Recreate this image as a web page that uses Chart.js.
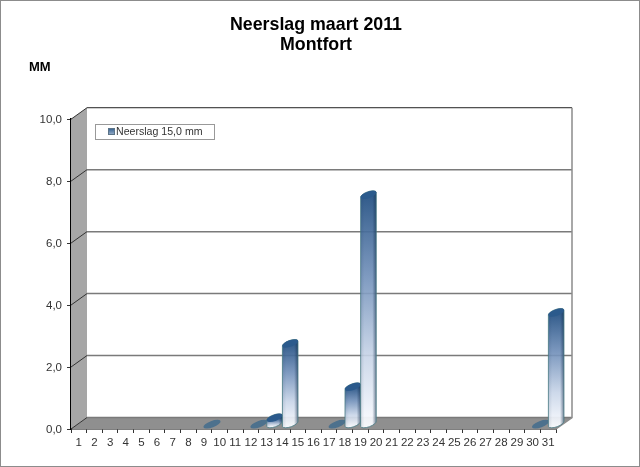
<!DOCTYPE html>
<html>
<head>
<meta charset="utf-8">
<style>
  body { margin: 0; background: #fff; }
  canvas { display: block; }
</style>
<script src="https://cdn.jsdelivr.net/npm/chart.js@4"></script>
</head>
<body>
<canvas id="myChart" width="640" height="467"></canvas>
<script>
const days = [];
for (let i = 1; i <= 31; i++) {
  days.push(i.toString());
}

// null = no mark at all, 0 = only the flat ellipse on the floor
const rain = [null, null, null, null, null, null, null, null, 0, null,
              null, 0, 0.2, 2.6, null, null, 0, 1.2, 7.4, null,
              null, null, null, null, null, null, null, null, null, 0, 3.6];
const titleLines = ['Neerslag maart 2011', 'Montfort'];
const unitLabel = 'MM';
const seriesLabel = 'Neerslag 15,0 mm';

// depth of the fake 3d box
const DX = 16, DY = -11.5;

function formatTick(value) {
  return value.toFixed(1).replace('.', ',');
}

const boxPlugin = {
  id: 'box',
  afterLayout(chart) {
    // title is centred on the canvas, not on the plot, and a bit left of the middle
    chart.titleBlock.left = 0;
    chart.titleBlock.right = 632;
  },
  beforeDraw(chart) {
    const c = chart.ctx;
    c.save();
    c.fillStyle = '#fff';
    c.fillRect(0, 0, chart.width, chart.height);
    c.strokeStyle = '#8c8c8c';
    c.lineWidth = 2;
    c.strokeRect(0, 0, chart.width, chart.height);
    c.fillStyle = '#000';
    c.font = 'bold 13px "Liberation Sans"';
    c.textBaseline = 'middle';
    c.fillText(unitLabel, 29, 67.5);
    c.restore();
  },
  beforeDatasetsDraw(chart) {
    const c = chart.ctx;
    const a = chart.chartArea;
    const y = chart.scales.y;
    c.save();
    // left wall
    c.fillStyle = '#a6a6a6';
    c.beginPath();
    c.moveTo(a.left, a.top);
    c.lineTo(a.left + DX, a.top + DY);
    c.lineTo(a.left + DX, a.bottom + DY);
    c.lineTo(a.left, a.bottom);
    c.fill();
    // floor
    c.fillStyle = '#8f8f8f';
    c.beginPath();
    c.moveTo(a.left, a.bottom);
    c.lineTo(a.left + DX, a.bottom + DY);
    c.lineTo(a.right + DX, a.bottom + DY);
    c.lineTo(a.right, a.bottom);
    c.fill();
    // grid lines on back wall and the short diagonals on the left wall
    y.ticks.forEach(function (t) {
      const py = y.getPixelForValue(t.value);
      c.strokeStyle = t.value === 10 ? '#222' : '#7a7a7a';
      c.lineWidth = t.value === 10 ? 1 : 1.5;
      c.beginPath();
      c.moveTo(a.left + DX, py + DY);
      c.lineTo(a.right + DX, py + DY);
      c.stroke();
      c.strokeStyle = '#333';
      c.lineWidth = 1;
      c.beginPath();
      c.moveTo(a.left, py);
      c.lineTo(a.left + DX, py + DY);
      c.stroke();
    });
    // right edge of the back wall
    c.strokeStyle = '#8c8c8c';
    c.lineWidth = 1.5;
    c.beginPath();
    c.moveTo(a.right + DX, a.top + DY);
    c.lineTo(a.right + DX, a.bottom + DY);
    c.lineTo(a.right, a.bottom);
    c.stroke();
    c.restore();
  },
  beforeDatasetDraw(chart, args) {
    const c = chart.ctx;
    const ds = chart.data.datasets[args.index];
    const ROT = -0.35;
    c.save();
    c.translate(DX / 2, DY / 2 + 0.9);
    args.meta.data.forEach(function (el, i) {
      const v = ds.data[i];
      if (v === null) return;
      const rx = el.width * (v > 0 ? 0.53 : 0.58), ry = 3.2;
      const tx = rx * Math.cos(ROT), ty = rx * Math.sin(ROT);
      if (v > 0) {
        c.beginPath();
        c.moveTo(el.x - tx, el.y - ty);
        c.lineTo(el.x - tx, el.base - ty);
        c.ellipse(el.x, el.base, rx, ry, ROT, Math.PI, 0, true);
        c.lineTo(el.x + tx, el.y + ty);
        c.ellipse(el.x, el.y, rx, ry, ROT, 0, Math.PI, true);
        c.closePath();
        const g = c.createLinearGradient(0, el.y, 0, el.base + ry);
        g.addColorStop(0, 'rgba(38,82,132,0.95)');
        g.addColorStop(0.35, 'rgba(112,143,185,0.9)');
        g.addColorStop(0.7, 'rgba(200,213,232,0.9)');
        g.addColorStop(1, 'rgba(251,252,255,0.95)');
        c.fillStyle = g;
        c.fill();
        const s = c.createLinearGradient(el.x - tx, 0, el.x + tx, 0);
        s.addColorStop(0, 'rgba(20,50,80,0.12)');
        s.addColorStop(0.25, 'rgba(20,50,80,0)');
        s.addColorStop(0.75, 'rgba(20,50,80,0)');
        s.addColorStop(1, 'rgba(15,40,70,0.55)');
        c.fillStyle = s;
        c.fill();
        c.strokeStyle = 'rgba(70,120,130,0.8)';
        c.lineWidth = 1;
        c.stroke();
      }
      c.beginPath();
      c.ellipse(el.x, el.y, rx, ry, ROT, 0, Math.PI * 2);
      c.fillStyle = v > 0 ? '#2b5a8c' : 'rgba(60,105,140,0.8)';
      c.fill();
    });
    c.restore();
    return false; // bars are drawn above, skip the flat ones
  },
  afterDraw(chart) {
    // legend box on the back wall
    const c = chart.ctx;
    c.save();
    c.fillStyle = '#fff';
    c.strokeStyle = '#999';
    c.lineWidth = 1;
    c.fillRect(95.5, 124.5, 119, 15);
    c.strokeRect(95.5, 124.5, 119, 15);
    const g = c.createLinearGradient(0, 128, 0, 135);
    g.addColorStop(0, '#2b5a8c');
    g.addColorStop(1, '#9fb3cc');
    c.fillStyle = g;
    c.fillRect(108.5, 128.5, 6, 6);
    c.strokeStyle = '#5c7488';
    c.strokeRect(108.5, 128.5, 6, 6);
    c.fillStyle = '#333';
    c.font = '10.6px "Liberation Sans"';
    c.textBaseline = 'middle';
    c.fillText(chart.data.datasets[0].label, 116, 132.5);
    c.restore();
  }
};

var myChart = new Chart(document.getElementById('myChart'), {
  type: 'bar',
  data: {
    labels: days,
    datasets: [
      {
        label: seriesLabel,
        data: rain,
        backgroundColor: '#2b5a8c',
        barPercentage: 1,
        categoryPercentage: 1
      }
    ]
  },
  options: {
    responsive: false,
    animation: false,
    layout: {
      padding: { left: 0, right: 84, top: 0, bottom: 0 }
    },
    plugins: {
      legend: { display: false },
      tooltip: { enabled: false },
      title: {
        display: true,
        text: titleLines,
        color: '#000',
        font: { family: '"Liberation Sans"', size: 17.8, weight: 'bold', lineHeight: 1.13 },
        padding: { top: 15, bottom: 64 }
      }
    },
    scales: {
      x: {
        afterFit(scale) { scale.height = 38; },
        grid: { drawOnChartArea: false, tickLength: 4, color: '#333' },
        border: { color: '#000', width: 1.5 },
        ticks: {
          color: '#333',
          autoSkip: false,
          maxRotation: 0,
          padding: 3,
          font: { family: '"Liberation Sans"', size: 11.5 }
        }
      },
      y: {
        min: 0,
        max: 10,
        afterFit(scale) { scale.width = 71; },
        grid: { drawOnChartArea: false, tickLength: 4, color: '#333' },
        border: { color: '#000', width: 1.5 },
        ticks: {
          stepSize: 2,
          color: '#333',
          padding: 5,
          labelOffset: 1,
          callback: formatTick,
          font: { family: '"Liberation Sans"', size: 11.5 }
        }
      }
    }
  },
  plugins: [boxPlugin]
});
</script>
</body>
</html>
